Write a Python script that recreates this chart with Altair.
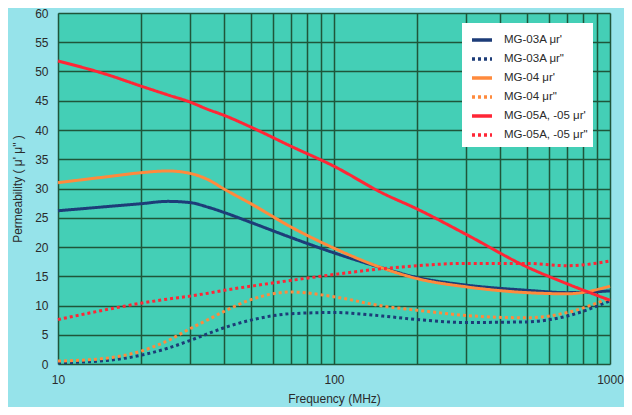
import altair as alt
import pandas as pd

freq = [10, 15, 20, 25, 30, 35, 40, 50, 70, 100, 150, 200, 300, 500, 700, 1000]
mg03_r1 = [26.2, 26.9, 27.4, 27.8, 27.6, 26.8, 25.9, 24.2, 21.6, 19.0, 16.4, 14.8, 13.5, 12.6, 12.2, 12.5]
mg03_r2 = [0.2, 0.6, 1.5, 2.7, 4.0, 5.2, 6.2, 7.5, 8.6, 8.8, 8.2, 7.6, 7.1, 7.2, 8.2, 10.8]
mg04_r1 = [31.0, 32.0, 32.7, 33.0, 32.6, 31.5, 29.9, 27.4, 23.4, 19.8, 16.4, 14.6, 13.2, 12.2, 12.0, 13.3]
mg04_r2 = [0.5, 1.0, 2.2, 4.0, 6.0, 7.6, 9.0, 11.0, 12.3, 11.5, 9.9, 9.2, 8.3, 7.9, 8.8, 11.3]
mg05_r1 = [51.8, 49.5, 47.5, 46.0, 44.8, 43.5, 42.5, 40.5, 37.2, 33.8, 29.2, 26.5, 22.2, 16.6, 13.7, 10.9]
mg05_r2 = [7.6, 9.3, 10.4, 11.1, 11.6, 12.1, 12.6, 13.3, 14.3, 15.3, 16.3, 16.8, 17.2, 17.2, 16.8, 17.6]

series_names = ["MG-03A \u03bcr'", 'MG-03A \u03bcr"', "MG-04 \u03bcr'", 'MG-04 \u03bcr"',
                "MG-05A, -05 \u03bcr'", 'MG-05A, -05 \u03bcr"']
series_vals = [mg03_r1, mg03_r2, mg04_r1, mg04_r2, mg05_r1, mg05_r2]
colors = ["#1d3c78", "#1d3c78", "#ff8a3d", "#ff8a3d", "#ff2636", "#ff2636"]
dashes = [[1, 0], [3, 3], [1, 0], [3, 3], [1, 0], [3, 3]]

x_grid = [10, 20, 30, 40, 50, 60, 70, 80, 90, 100, 200, 300, 400, 500, 600, 700, 800, 900, 1000]
y_ticks = list(range(0, 61, 5))

rows = []
for name, vals in zip(series_names, series_vals):
    for f, v in zip(freq, vals):
        rows.append({"series": name, "freq": f, "value": v})
df = pd.DataFrame(rows)

font = "Liberation Sans"

chart = alt.Chart(df).mark_line(interpolate="monotone", strokeWidth=3, strokeCap="butt").encode(
    x=alt.X("freq:Q", scale=alt.Scale(type="log", domain=[10, 1000], nice=False),
            axis=alt.Axis(values=x_grid, title="Frequency (MHz)", ticks=False, domain=False,
                          labelExpr="(datum.value == 10 || datum.value == 100 || datum.value == 1000) ? datum.value : ''",
                          labelPadding=10, titlePadding=8, labelFlush=False)),
    y=alt.Y("value:Q", scale=alt.Scale(domain=[0, 60], nice=False),
            axis=alt.Axis(values=y_ticks, title="Permeability ( \u03bc' \u03bc\" )", ticks=False, domain=False,
                          labelPadding=10, titlePadding=10)),
    color=alt.Color("series:N", scale=alt.Scale(domain=series_names, range=colors),
                    legend=alt.Legend(title=None)),
    strokeDash=alt.StrokeDash("series:N", scale=alt.Scale(domain=series_names, range=dashes),
                              legend=alt.Legend(title=None)),
).properties(
    width=552, height=351,
    autosize=alt.AutoSizeParams(type="none"),
    padding={"left": 50, "top": 5, "right": 14, "bottom": 43},
    background="#96e3ea",
).configure_view(
    fill="#44cfb6", stroke=None
).configure_axis(
    gridColor="#1f553a", gridWidth=1.5, gridOpacity=1,
    labelFont=font, labelFontSize=12, labelColor="#2a2a2a",
    titleFont=font, titleFontSize=12, titleColor="#2a2a2a", titleFontWeight="normal",
).configure_legend(
    orient="none", legendX=404, legendY=10,
    fillColor="white", padding=5, symbolType="stroke", symbolSize=400,
    symbolStrokeWidth=3.5, labelFont=font, labelFontSize=11.5, labelColor="#2a2a2a",
    rowPadding=0, labelOffset=10, symbolOffset=3,
)

chart.save("out.html", embed_options={"renderer": "svg", "actions": False})
